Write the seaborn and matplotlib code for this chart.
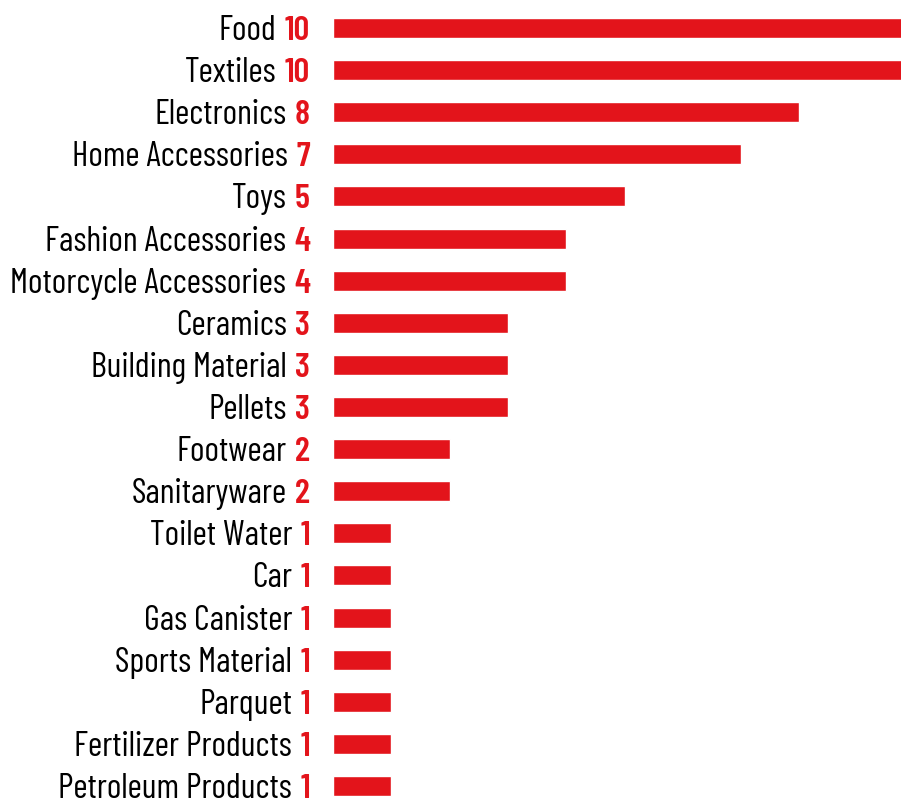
import matplotlib
matplotlib.use("Agg")
import matplotlib.pyplot as plt
import matplotlib.transforms as mtransforms
import pandas as pd
import seaborn as sns

categories = ["Food", "Textiles", "Electronics", "Home Accessories", "Toys",
              "Fashion Accessories", "Motorcycle Accessories", "Ceramics",
              "Building Material", "Pellets", "Footwear", "Sanitaryware",
              "Toilet Water", "Car", "Gas Canister", "Sports Material",
              "Parquet", "Fertilizer Products", "Petroleum Products"]
counts = [10, 10, 8, 7, 5, 4, 4, 3, 3, 3, 2, 2, 1, 1, 1, 1, 1, 1, 1]

RED = "#E3141B"
FONT = "Barlow Condensed"

sns.set_style("white")
plt.rcParams["font.family"] = [FONT, "DejaVu Sans"]

df = pd.DataFrame({"category": categories, "count": counts})

W, H = 901, 800
fig = plt.figure(figsize=(W / 100, H / 100), dpi=100)
ax = fig.add_axes([333 / W, 0, 1 - 333 / W, 1])

sns.barplot(data=df, x="count", y="category", color=RED, saturation=1,
            width=0.475, ax=ax)

# the two longest bars run past the right edge in the original
ax.set_xlim(0, 568 / 58.3)
step = (786 - 28) / 18
ax.set_ylim(18 + 14 / step, -28 / step)
ax.axis("off")

trans = mtransforms.blended_transform_factory(fig.transFigure, ax.transData)
for i, (cat, n) in enumerate(zip(categories, counts)):
    val = ax.text(310 / W, i, str(n), transform=trans, ha="right",
                  va="center_baseline", fontsize=25, fontweight="semibold",
                  color=RED)
    # name sits just left of the number, same baseline
    ax.annotate(cat, xy=(0, 0), xycoords=val, xytext=(-6, 0),
                textcoords="offset points", ha="right", va="bottom",
                fontsize=25, color="black")

fig.savefig("out.png", dpi=100)
